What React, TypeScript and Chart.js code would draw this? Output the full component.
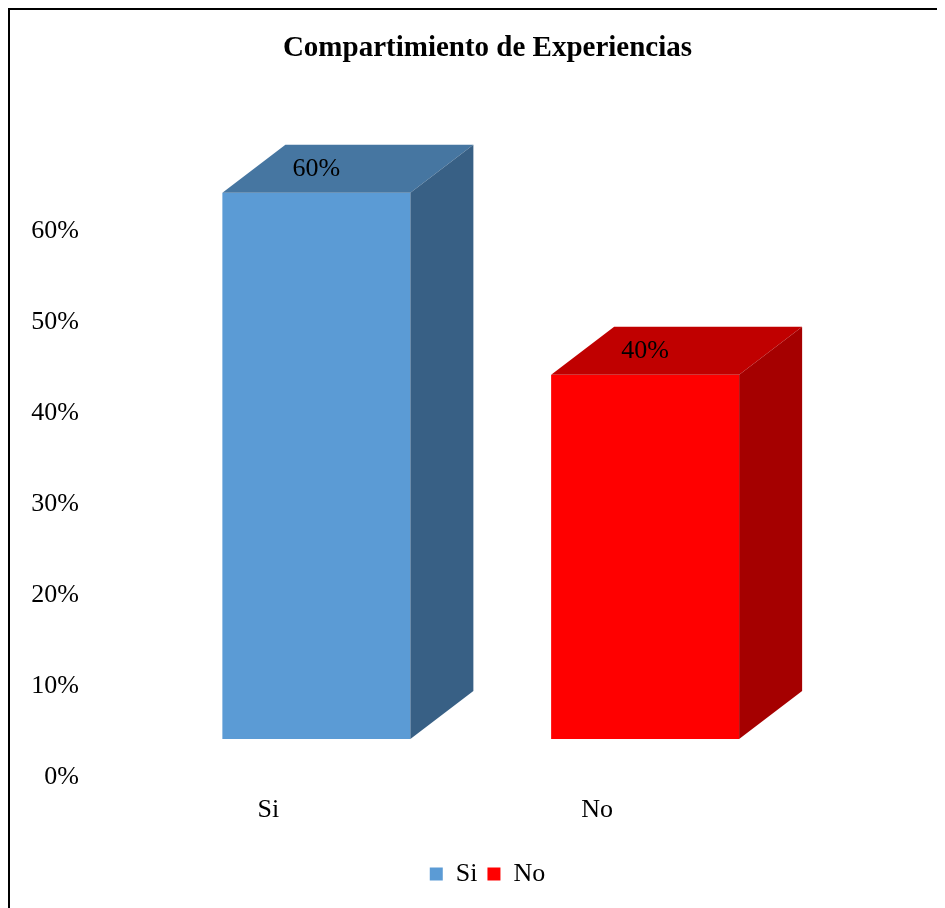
import React, { useEffect, useRef } from "react";
import { Chart, registerables } from "chart.js";

Chart.register(...registerables);

// Chart data
const categories = ["Si", "No"];
const percentValues = [60, 40];
const yTicks = [0, 10, 20, 30, 40, 50, 60];
const chartTitle = "Compartimiento de Experiencias";

// Face colours of each box: front, top, side
const frontColors = ["#5B9BD5", "#FF0000"];
const topColors = ["#4676A1", "#C00000"];
const sideColors = ["#386085", "#A50000"];

const FONT = "'Liberation Serif', 'Times New Roman', serif";
const TEXT_SIZE = 26;

// 3D extrusion of the boxes
const DEPTH_X = 63;
const DEPTH_Y = 48;
const SHIFT_X = 48;
const SHIFT_Y = -38;

const box3d = {
  id: "box3d",
  beforeDatasetDraw() {
    return false;
  },
  afterDatasetsDraw(chart: any) {
    const ctx = chart.ctx as CanvasRenderingContext2D;
    chart.data.datasets.forEach((ds: any, di: number) => {
      const meta = chart.getDatasetMeta(di);
      meta.data.forEach((el: any, i: number) => {
        const v = ds.data[i];
        if (v == null) return;
        const { x, y, base, width } = el.getProps(["x", "y", "base", "width"], true);
        const l = x - width / 2 + SHIFT_X;
        const r = x + width / 2 + SHIFT_X;
        const t = y + SHIFT_Y;
        const b = base + SHIFT_Y;
        ctx.save();
        // front face
        ctx.fillStyle = frontColors[di];
        ctx.fillRect(l, t, r - l, b - t);
        // top face
        ctx.fillStyle = topColors[di];
        ctx.beginPath();
        ctx.moveTo(l, t);
        ctx.lineTo(l + DEPTH_X, t - DEPTH_Y);
        ctx.lineTo(r + DEPTH_X, t - DEPTH_Y);
        ctx.lineTo(r, t);
        ctx.closePath();
        ctx.fill();
        // side face
        ctx.fillStyle = sideColors[di];
        ctx.beginPath();
        ctx.moveTo(r, t);
        ctx.lineTo(r + DEPTH_X, t - DEPTH_Y);
        ctx.lineTo(r + DEPTH_X, b - DEPTH_Y);
        ctx.lineTo(r, b);
        ctx.closePath();
        ctx.fill();
        // value label on the top face
        ctx.fillStyle = "#000";
        ctx.font = `${TEXT_SIZE}px ${FONT}`;
        ctx.textAlign = "center";
        ctx.textBaseline = "middle";
        ctx.fillText(`${v}%`, (l + r) / 2, t - DEPTH_Y / 2);
        ctx.restore();
      });
    });
  },
};

export default function App() {
  const canvasRef = useRef<HTMLCanvasElement>(null);

  useEffect(() => {
    if (!canvasRef.current) return;
    const datasets = categories.map((name, di) => ({
      label: name,
      data: categories.map((_, ci) => (ci === di ? percentValues[di] : null)),
      backgroundColor: frontColors[di],
      borderWidth: 0,
      barThickness: 188,
      skipNull: true,
    }));

    const chart = new Chart(canvasRef.current, {
      type: "bar",
      data: { labels: categories, datasets },
      plugins: [box3d],
      options: {
        responsive: false,
        animation: false,
        layout: { padding: { left: 20, right: 0, top: 0, bottom: 11 } },
        plugins: {
          title: {
            display: true,
            text: chartTitle,
            color: "#000",
            font: { family: FONT, size: 29, weight: "bold" },
            padding: { top: 21, bottom: 165 },
          },
          legend: {
            position: "bottom",
            labels: {
              boxWidth: 13,
              boxHeight: 13,
              padding: 10,
              color: "#000",
              font: { family: FONT, size: TEXT_SIZE },
            },
          },
          tooltip: { enabled: false },
        },
        scales: {
          x: {
            grid: { display: false, drawTicks: false },
            border: { display: false },
            ticks: { color: "#000", font: { family: FONT, size: TEXT_SIZE }, padding: 18 },
            afterFit: (s: any) => {
              s.height = 74;
            },
          },
          y: {
            min: 0,
            max: 60,
            grid: { display: false, drawTicks: false },
            border: { display: false },
            afterBuildTicks: (s: any) => {
              s.ticks = yTicks.map((v) => ({ value: v }));
            },
            ticks: {
              color: "#000",
              font: { family: FONT, size: TEXT_SIZE },
              padding: 25,
              callback: (v: any) => `${v}%`,
            },
            afterFit: (s: any) => {
              s.width = 74;
            },
          },
          yRight: {
            position: "right",
            display: true,
            grid: { display: false, drawTicks: false },
            border: { display: false },
            ticks: { display: false },
            afterFit: (s: any) => {
              s.width = 183.5;
            },
          },
        },
      },
    } as any);
    return () => chart.destroy();
  }, []);

  return (
    <div
      style={{
        width: 937,
        height: 900,
        boxSizing: "border-box",
        borderTop: "2px solid #000",
        borderLeft: "2px solid #000",
        background: "#fff",
      }}
    >
      <canvas ref={canvasRef} width={935} height={898} style={{ display: "block" }} />
    </div>
  );
}
